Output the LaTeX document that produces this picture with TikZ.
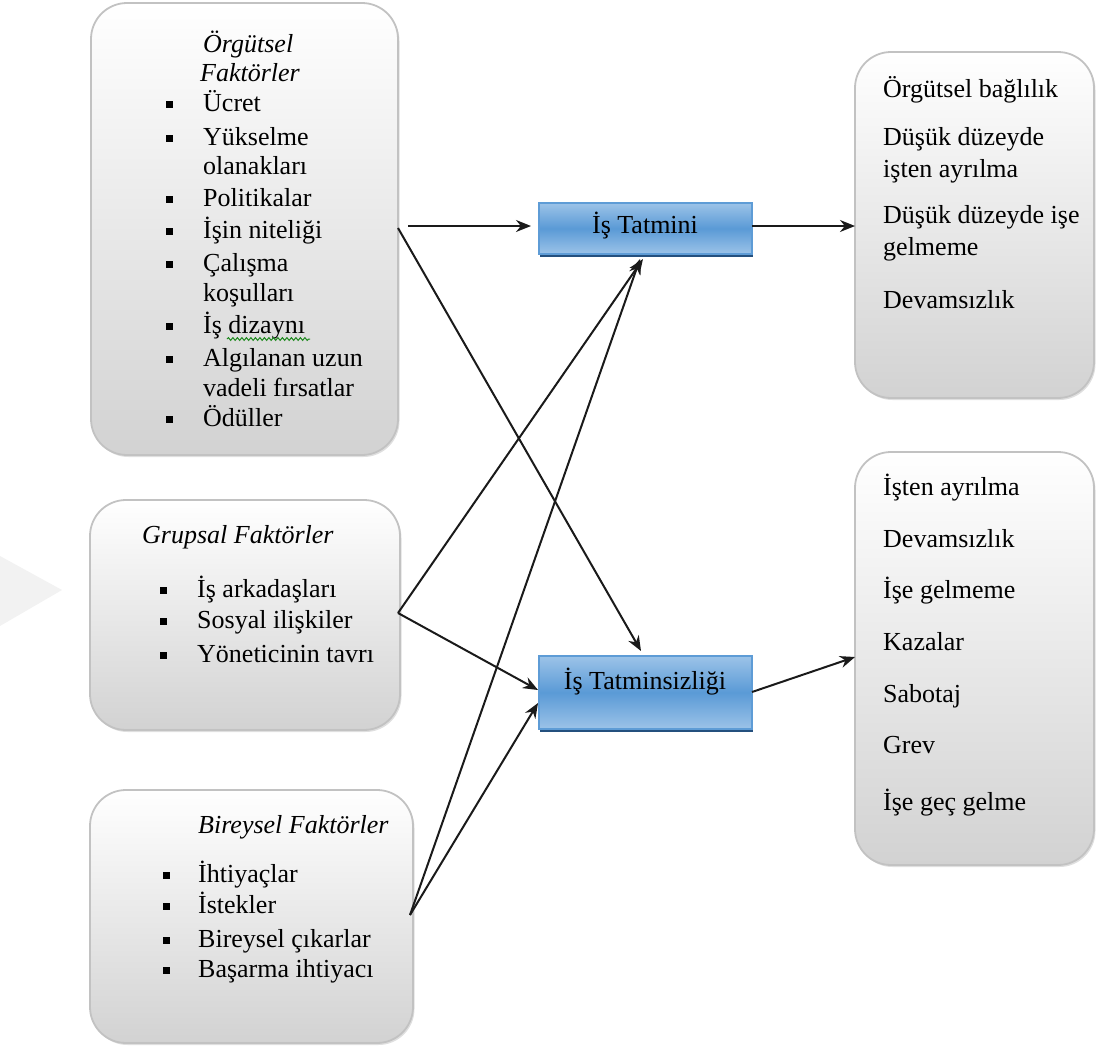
\documentclass[tikz,border=0pt]{standalone}
\usepackage{fontspec}
\setmainfont{Liberation Serif}
\usetikzlibrary{arrows.meta,shadows,decorations.pathmorphing}
\definecolor{boxedge}{HTML}{C2C2C2}
\definecolor{boxbottom}{HTML}{D2D2D2}
\definecolor{bluelight}{HTML}{9CC3E8}
\definecolor{bluemid}{HTML}{5A9AD6}
\definecolor{blueedge}{HTML}{5E9CD6}
\definecolor{blueshadow}{HTML}{24507E}
\definecolor{linecol}{HTML}{1A1A1A}
\definecolor{squiggle}{HTML}{1F8A1F}
\begin{document}
\begin{tikzpicture}[x=1pt,y=-1pt,
  factorbox/.style={draw=boxedge, line width=1.8pt, rounded corners=36pt,
    top color=white, bottom color=boxbottom, inner sep=0pt,
    drop shadow={opacity=0.25, shadow xshift=1.5pt, shadow yshift=-2pt}},
  resultbox/.style={draw=blueedge, line width=1.8pt,
    top color=bluelight, bottom color=bluelight, middle color=bluemid, inner sep=0pt,
    drop shadow={fill=blueshadow, opacity=1, shadow xshift=1pt, shadow yshift=-3pt}},
  txt/.style={anchor=base west, inner sep=0pt, font=\fontsize{26}{30}\selectfont},
  ttl/.style={txt, font=\fontsize{26}{30}\selectfont\itshape},
  bul/.style={fill=black, minimum size=7pt, inner sep=0pt},
  conn/.style={draw=linecol, line width=2pt, -{Stealth[length=15pt,width=12pt]}}]

\useasboundingbox (0,0) rectangle (1096,1047);

% faint mark at the left margin
\fill[black!5] (0,556) -- (62,590) -- (0,626) -- cycle;

% factor boxes on the left, outcome boxes on the right
\node[factorbox, minimum width=307pt, minimum height=452pt] (org) at (244.5,229) {};
\node[factorbox, minimum width=310pt, minimum height=230pt] (grp) at (245,615) {};
\node[factorbox, minimum width=323pt, minimum height=253pt] (bir) at (251.5,916.5) {};
\node[factorbox, minimum width=239pt, minimum height=346pt] (pos) at (974.5,225) {};
\node[factorbox, minimum width=239pt, minimum height=413pt] (neg) at (974.5,658.5) {};

% satisfaction / dissatisfaction boxes
\node[resultbox, minimum width=213pt, minimum height=51pt] (tat) at (645.5,228.5) {};
\node[resultbox, minimum width=213pt, minimum height=73pt] (tsz) at (645.5,692.5) {};
\node[txt, anchor=base] (tatl) at (645,233) {İş Tatmini};
\node[txt, anchor=base] (tszl) at (645,689) {İş Tatminsizliği};

% organisational factors
\node[ttl] (orgt1) at (203,52) {Örgütsel};
\node[ttl] (orgt2) at (200,81) {Faktörler};
\foreach \t/\y/\b [count=\i] in {Ücret/111/1, Yükselme/145/1, olanakları/174/0,
    Politikalar/206/1, İşin niteliği/238/1, Çalışma/271/1, koşulları/301/0,
    İş dizaynı/333/1, Algılanan uzun/366/1, vadeli fırsatlar/396/0, Ödüller/426/1} {
  \node[txt] (org-\i) at (203,\y) {\t};
  \ifnum\b=1 \node[bul] (orgb-\i) at (169,\y-7) {}; \fi
}
\draw[squiggle, line width=1pt, decorate,
  decoration={snake, amplitude=1.4pt, segment length=4.5pt}] (227,339) -- (310,339);

% group factors
\node[ttl] (grpt) at (142,543) {Grupsal Faktörler};
\foreach \t/\y [count=\i] in {İş arkadaşları/597, Sosyal ilişkiler/628, Yöneticinin tavrı/662} {
  \node[txt] (grp-\i) at (197,\y) {\t};
  \node[bul] (grpb-\i) at (163,\y-7) {};
}

% individual factors
\node[ttl] (birt) at (198,833) {Bireysel Faktörler};
\foreach \t/\y [count=\i] in {İhtiyaçlar/882, İstekler/913, Bireysel çıkarlar/947, Başarma ihtiyacı/977} {
  \node[txt] (bir-\i) at (198,\y) {\t};
  \node[bul] (birb-\i) at (166,\y-7) {};
}

% outcomes of satisfaction
\foreach \t/\y [count=\i] in {Örgütsel bağlılık/97, Düşük düzeyde/145, işten ayrılma/177,
    Düşük düzeyde işe/223, gelmeme/255, Devamsızlık/308} {
  \node[txt] (pos-\i) at (883,\y) {\t};
}

% outcomes of dissatisfaction
\foreach \t/\y [count=\i] in {İşten ayrılma/495, Devamsızlık/547, İşe gelmeme/598,
    Kazalar/650, Sabotaj/702, Grev/753, İşe geç gelme/810} {
  \node[txt] (neg-\i) at (883,\y) {\t};
}

% connector end points
\coordinate (orgA) at (408,226);
\coordinate (orgB) at (398,228);
\coordinate (grpA) at (398,613);
\coordinate (birA) at (410,915);
\coordinate (tatIn) at (531,226);
\coordinate (tatBot1) at (643,259);
\coordinate (tatBot2) at (640,259);
\coordinate (tszTop) at (641,651);
\coordinate (tszIn1) at (538,690);
\coordinate (tszIn2) at (538,703);
\coordinate (tatOut) at (752,226);
\coordinate (posIn) at (855,226);
\coordinate (tszOut) at (752,692);
\coordinate (negIn) at (855,657);

% connectors
\draw[conn] (orgA) -- (tatIn);
\draw[conn] (orgB) -- (tszTop);
\draw[conn] (grpA) -- (tatBot1);
\draw[conn] (grpA) -- (tszIn1);
\draw[conn] (birA) -- (tatBot2);
\draw[conn] (birA) -- (tszIn2);
\draw[conn] (tatOut) -- (posIn);
\draw[conn] (tszOut) -- (negIn);
\end{tikzpicture}
\end{document}
